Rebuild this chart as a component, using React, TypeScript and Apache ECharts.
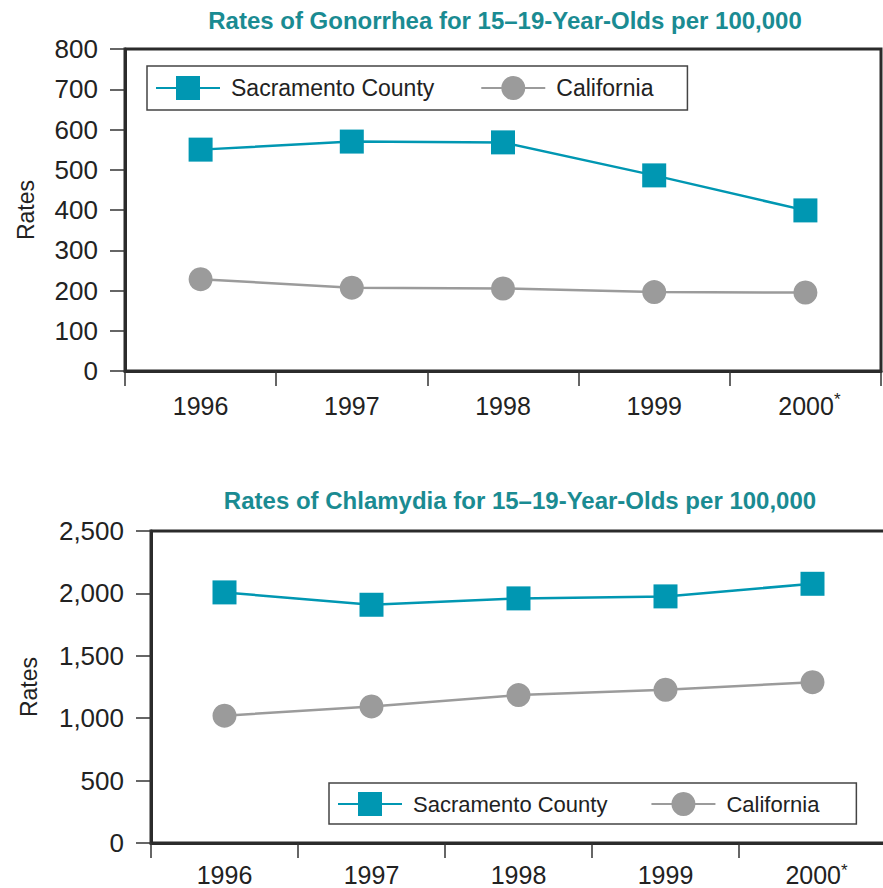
import React, { useEffect, useRef } from "react";
import * as echarts from "echarts";

// Years shown on both charts
const years = ["1996", "1997", "1998", "1999", "2000"];

// Gonorrhea rates per 100,000, ages 15–19
const gonorrheaSacramento = [550, 570, 568, 486, 399];
const gonorrheaCalifornia = [228, 207, 205, 196, 195];

// Chlamydia rates per 100,000, ages 15–19
const chlamydiaSacramento = [2008, 1909, 1960, 1976, 2077];
const chlamydiaCalifornia = [1020, 1094, 1185, 1228, 1289];

const seriesNames = ["Sacramento County", "California"];
const gonorrheaTitle = "Rates of Gonorrhea for 15–19-Year-Olds per 100,000";
const chlamydiaTitle = "Rates of Chlamydia for 15–19-Year-Olds per 100,000";
const axisName = "Rates";
const provisionalYear = "2000";

const FONT = "'Liberation Sans', Arial, sans-serif";
const TEAL = "#0097b2";
const TITLE_TEAL = "#1a8b92";
const GRAY = "#9b9b9b";
const INK = "#222";
const AXIS = "#2b2b2b";

function xAxis(gridIndex: number, margin: number, lineHeight: number) {
  return {
    type: "category",
    gridIndex,
    data: years,
    boundaryGap: true,
    axisLine: { show: true, lineStyle: { color: AXIS, width: 3 } },
    axisTick: { show: true, interval: 0, length: 15, lineStyle: { color: "#333", width: 1.5 } },
    axisLabel: {
      interval: 0,
      margin,
      lineHeight,
      color: INK,
      fontSize: 25,
      fontFamily: FONT,
      // the provisional year carries a raised asterisk
      formatter: (v: string) => (v === provisionalYear ? `{y|${v}}{s|*}` : v),
      rich: {
        y: { fontSize: 25, fontFamily: FONT, color: INK, lineHeight, padding: [0, 0, 0, 8] },
        s: { fontSize: 17, fontFamily: FONT, color: INK, lineHeight: 10, verticalAlign: "top" },
      },
    },
    splitLine: { show: false },
  };
}

function yAxis(gridIndex: number, max: number, interval: number, nameGap: number, thousands: boolean) {
  return {
    type: "value",
    gridIndex,
    min: 0,
    max,
    interval,
    name: axisName,
    nameLocation: "middle",
    nameRotate: 90,
    nameGap,
    nameTextStyle: { color: INK, fontSize: 23, fontFamily: FONT },
    axisLine: { show: true, lineStyle: { color: AXIS, width: 3 } },
    axisTick: { show: true, length: 15, lineStyle: { color: "#333", width: 1.5 } },
    axisLabel: {
      margin: 27,
      color: INK,
      fontSize: 26,
      fontFamily: FONT,
      formatter: (v: number) => (thousands ? v.toLocaleString("en-US") : String(v)),
    },
    splitLine: { show: false },
  };
}

function legend(
  left: number,
  top: number,
  fontSize: number,
  itemGap: number,
  padding: number[]
) {
  return {
    left,
    top,
    orient: "horizontal",
    data: seriesNames,
    itemWidth: 64,
    itemHeight: 30,
    itemGap,
    padding,
    borderColor: "#444",
    borderWidth: 1.5,
    backgroundColor: "#fff",
    textStyle: { color: INK, fontSize, fontFamily: FONT, padding: [0, 0, 0, 6] },
  };
}

function lineSeries(name: string, data: number[], idx: number, sacramento: boolean) {
  return {
    type: "line",
    name,
    data,
    xAxisIndex: idx,
    yAxisIndex: idx,
    symbol: sacramento ? "rect" : "circle",
    symbolSize: 24,
    showAllSymbol: true,
    z: sacramento ? 4 : 3,
    lineStyle: { color: sacramento ? TEAL : GRAY, width: 2.5 },
    itemStyle: { color: sacramento ? TEAL : GRAY },
    emphasis: { disabled: true },
  };
}

function titleText(text: string, x: number, y: number) {
  return {
    type: "text",
    x,
    y,
    style: {
      text,
      align: "center",
      verticalAlign: "middle",
      fill: TITLE_TEAL,
      fontSize: 24,
      fontWeight: "bold",
      fontFamily: FONT,
    },
  };
}

export default function App() {
  const ref = useRef<HTMLDivElement>(null);

  useEffect(() => {
    if (!ref.current) return;
    const chart = echarts.init(ref.current, undefined, { renderer: "svg" });
    chart.setOption({
      animation: false,
      backgroundColor: "#fff",
      graphic: [titleText(gonorrheaTitle, 505, 20), titleText(chlamydiaTitle, 520, 500)],
      grid: [
        {
          left: 125, top: 49, width: 756, height: 322,
          show: true, borderColor: AXIS, borderWidth: 3,
          containLabel: false, outerBoundsMode: "none",
        },
        {
          left: 151, top: 531, width: 735, height: 312,
          show: true, borderColor: AXIS, borderWidth: 3,
          containLabel: false, outerBoundsMode: "none",
        },
      ],
      xAxis: [xAxis(0, 20, 30), xAxis(1, 19, 25)],
      yAxis: [yAxis(0, 800, 100, 88, false), yAxis(1, 2500, 500, 111, true)],
      legend: [
        legend(147, 66, 23, 46, [10, 34, 10, 8]),
        legend(329, 783, 22, 43, [9, 37, 8, 8]),
      ],
      series: [
        lineSeries(seriesNames[0], gonorrheaSacramento, 0, true),
        lineSeries(seriesNames[1], gonorrheaCalifornia, 0, false),
        lineSeries(seriesNames[0], chlamydiaSacramento, 1, true),
        lineSeries(seriesNames[1], chlamydiaCalifornia, 1, false),
      ],
    });
    return () => chart.dispose();
  }, []);

  return (
    <div
      ref={ref}
      style={{ position: "fixed", left: 0, top: 0, width: 883, height: 888 }}
    />
  );
}
